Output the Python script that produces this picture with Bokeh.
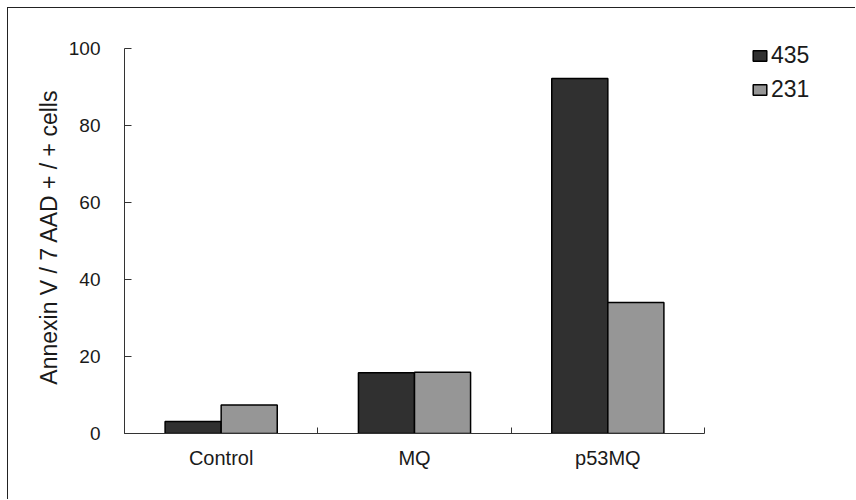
from bokeh.plotting import figure
from bokeh.layouts import column
from bokeh.models import (Range1d, LinearAxis, FixedTicker, ColumnDataSource, Legend, LegendItem)
from bokeh.transform import dodge
from bokeh.embed import file_html
from bokeh.resources import INLINE

# ---- data ----
categories = ["Control", "MQ", "p53MQ"]
series_names = ["435", "231"]
values_435 = [3.1, 15.8, 92.2]
values_231 = [7.4, 15.9, 34.0]
y_ticks = [0, 20, 40, 60, 80, 100]
y_label = "Annexin V / 7 AAD + / + cells"

FONT = "Liberation Sans"
TXT = "#1a1a1a"

n = len(categories)
centers = [i + 0.5 for i in range(n)]          # category slot centres on a 0..n axis
source = ColumnDataSource(dict(x=centers, cat=categories, v435=values_435, v231=values_231))

W, H = 847, 491
LEFT, TOP, BOTTOM = 116, 32, 66
FRAME_W = W - LEFT                 # frame runs to the right edge (room for legend)
FRAME_H = H - TOP - BOTTOM
CAT_W = 580                        # pixels used by the n categories
VAL_H = 385                        # pixels used by the 0..100 value span

p = figure(width=W, height=H,
           x_range=Range1d(0, n * FRAME_W / CAT_W),
           y_range=Range1d(0, y_ticks[-1] * FRAME_H / VAL_H),
           output_backend="svg", toolbar_location=None,
           x_axis_location=None, y_axis_location=None,
           min_border_left=LEFT, min_border_right=0,
           min_border_top=TOP, min_border_bottom=BOTTOM)
p.grid.visible = False
p.outline_line_color = None
p.background_fill_color = "white"
p.border_fill_color = "white"

# y axis
yaxis = LinearAxis(ticker=FixedTicker(ticks=y_ticks), axis_label=y_label,
                   bounds=(y_ticks[0], y_ticks[-1]))
yaxis.major_tick_in = 7
yaxis.major_tick_out = 0
yaxis.minor_tick_line_color = None
yaxis.axis_line_color = "#333333"
yaxis.major_tick_line_color = "#333333"
yaxis.major_label_standoff = 24
yaxis.major_label_text_font = FONT
yaxis.major_label_text_font_size = "19px"
yaxis.major_label_text_color = TXT
yaxis.axis_label_text_font = FONT
yaxis.axis_label_text_font_size = "23px"
yaxis.axis_label_text_font_style = "normal"
yaxis.axis_label_text_color = TXT
yaxis.axis_label_standoff = 4
p.add_layout(yaxis, "left")

# x axis line with tick marks at the category boundaries
edge_axis = LinearAxis(ticker=FixedTicker(ticks=list(range(n + 1))), bounds=(0, n))
edge_axis.major_tick_in = 6
edge_axis.major_tick_out = 0
edge_axis.minor_tick_line_color = None
edge_axis.major_label_text_font_size = "0px"
edge_axis.major_label_text_color = None
edge_axis.major_label_standoff = 0
edge_axis.axis_line_color = "#333333"
edge_axis.major_tick_line_color = "#333333"
p.add_layout(edge_axis, "below")

# category labels
cat_axis = LinearAxis(ticker=FixedTicker(ticks=centers))
cat_axis.major_label_overrides = {c: lab for c, lab in zip(centers, categories)}
cat_axis.axis_line_color = None
cat_axis.major_tick_line_color = None
cat_axis.minor_tick_line_color = None
cat_axis.major_label_standoff = 7
cat_axis.major_label_text_font = FONT
cat_axis.major_label_text_font_size = "20px"
cat_axis.major_label_text_color = TXT
p.add_layout(cat_axis, "below")

# bars
r1 = p.vbar(x=dodge("x", -0.145), top="v435", width=0.29,
            source=source, fill_color="#303030", line_color="black", line_width=1.5)
r2 = p.vbar(x=dodge("x", 0.145), top="v231", width=0.29,
            source=source, fill_color="#969696", line_color="black", line_width=1.5)

legend = Legend(items=[LegendItem(label=series_names[0], renderers=[r1]),
                       LegendItem(label=series_names[1], renderers=[r2])],
                location=(627, 330))
legend.padding = 0
legend.margin = 0
legend.border_line_color = None
legend.background_fill_alpha = 0
legend.glyph_width = 17
legend.glyph_height = 13
legend.label_standoff = 3
legend.label_height = 26
legend.spacing = 7
legend.label_text_font = FONT
legend.label_text_font_size = "23px"
legend.label_text_color = TXT
p.add_layout(legend, "center")

layout = column(p, styles={"margin-left": "7px", "margin-top": "7px",
                           "border-left": "1.5px solid #222",
                           "border-top": "1.5px solid #222"})

open("out.html", "w").write(file_html(layout, INLINE))
